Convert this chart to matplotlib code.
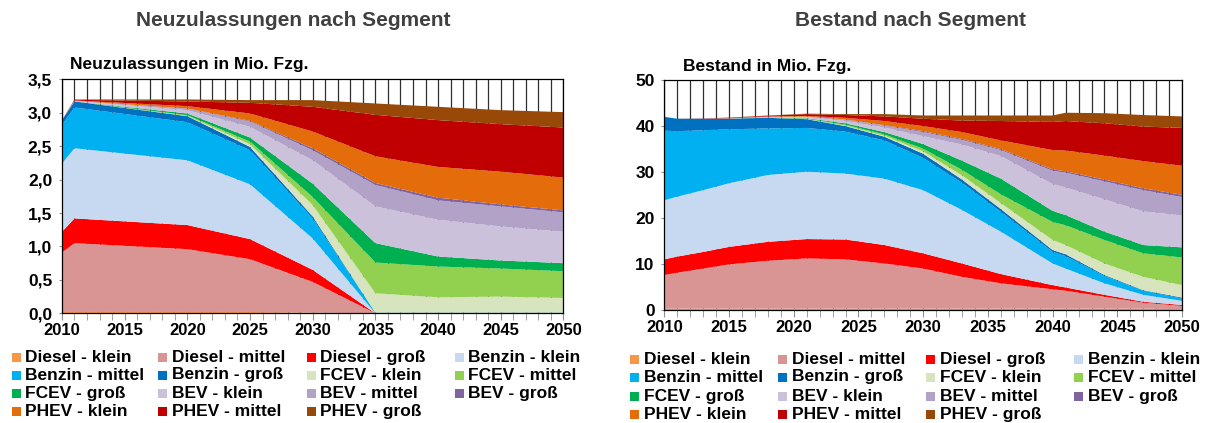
import numpy as np
import matplotlib.pyplot as plt
from matplotlib.ticker import FuncFormatter, MultipleLocator
from matplotlib.patches import Rectangle

plt.rcParams['font.family'] = ['Liberation Sans', 'DejaVu Sans']
plt.rcParams['font.weight'] = 'bold'

segments = ['Diesel - klein', 'Diesel - mittel', 'Diesel - groß',
            'Benzin - klein', 'Benzin - mittel', 'Benzin - groß',
            'FCEV - klein', 'FCEV - mittel', 'FCEV - groß',
            'BEV - klein', 'BEV - mittel', 'BEV - groß',
            'PHEV - klein', 'PHEV - mittel', 'PHEV - groß']
colors = ['#F79646', '#D99594', '#FF0000',
          '#C6D9F1', '#00B0F0', '#0070C0',
          '#D7E4BD', '#92D050', '#00B050',
          '#CCC1DA', '#B3A2C7', '#8064A2',
          '#E46C0A', '#C00000', '#984807']

# Neuzulassungen (Mio. Fzg.)
years_nz = [2010, 2011, 2020, 2025, 2030, 2035, 2040, 2045, 2050]
nz_diesel_klein = [0.02, 0.02, 0.02, 0.02, 0.01, 0.0, 0.0, 0.0, 0.0]
nz_diesel_mittel = [0.89, 1.03, 0.94, 0.79, 0.46, 0.0, 0.0, 0.0, 0.0]
nz_diesel_gross = [0.31, 0.37, 0.36, 0.30, 0.18, 0.0, 0.0, 0.0, 0.0]
nz_benzin_klein = [1.02, 1.05, 0.97, 0.82, 0.47, 0.0, 0.0, 0.0, 0.0]
nz_benzin_mittel = [0.58, 0.61, 0.57, 0.51, 0.30, 0.01, 0.01, 0.01, 0.01]
nz_benzin_gross = [0.07, 0.09, 0.09, 0.05, 0.03, 0.0, 0.0, 0.0, 0.0]
nz_fcev_klein = [0.0, 0.0, 0.005, 0.04, 0.17, 0.29, 0.23, 0.24, 0.22]
nz_fcev_mittel = [0.0, 0.0, 0.01, 0.04, 0.12, 0.46, 0.46, 0.42, 0.40]
nz_fcev_gross = [0.0, 0.0, 0.025, 0.06, 0.20, 0.29, 0.15, 0.12, 0.12]
nz_bev_klein = [0.0, 0.005, 0.05, 0.16, 0.35, 0.55, 0.55, 0.51, 0.47]
nz_bev_mittel = [0.0, 0.005, 0.02, 0.08, 0.15, 0.32, 0.29, 0.30, 0.29]
nz_bev_gross = [0.0, 0.0, 0.005, 0.01, 0.03, 0.03, 0.04, 0.03, 0.03]
nz_phev_klein = [0.0, 0.005, 0.035, 0.11, 0.25, 0.40, 0.46, 0.49, 0.49]
nz_phev_mittel = [0.0, 0.01, 0.07, 0.16, 0.37, 0.62, 0.70, 0.71, 0.75]
nz_phev_gross = [0.0, 0.005, 0.03, 0.04, 0.10, 0.17, 0.20, 0.21, 0.23]

# Bestand (Mio. Fzg.)
years_bs = [2010, 2011, 2013, 2015, 2018, 2021, 2024, 2027, 2030, 2033,
            2036, 2040, 2041, 2044, 2047, 2050]
bs_diesel_klein = [0.3, 0.3, 0.3, 0.3, 0.3, 0.3, 0.3, 0.3, 0.3, 0.3, 0.3, 0.3, 0.3, 0.3, 0.3, 0.2]
bs_diesel_mittel = [7.3, 7.8, 8.7, 9.6, 10.4, 10.9, 10.7, 9.8, 8.7, 6.9, 5.5, 4.2, 3.9, 2.6, 1.3, 0.7]
bs_diesel_gross = [3.4, 3.5, 3.6, 3.8, 4.1, 4.2, 4.3, 4.0, 3.3, 2.9, 2.0, 0.9, 0.7, 0.4, 0.2, 0.2]
bs_benzin_klein = [12.8, 13.0, 13.4, 13.8, 14.5, 14.6, 14.3, 14.4, 13.7, 11.6, 9.2, 4.7, 4.1, 2.5, 1.5, 0.9]
bs_benzin_mittel = [15.1, 14.2, 13.0, 11.7, 10.1, 9.5, 9.1, 8.3, 7.0, 5.9, 4.3, 2.5, 2.7, 1.6, 0.9, 0.5]
bs_benzin_gross = [3.0, 2.7, 2.5, 2.3, 2.3, 1.9, 1.2, 0.8, 0.9, 0.7, 0.6, 0.4, 0.4, 0.2, 0.1, 0.2]
bs_fcev_klein = [0.0, 0.0, 0.0, 0.0, 0.02, 0.05, 0.1, 0.2, 0.5, 0.9, 1.3, 2.2, 2.0, 2.5, 2.9, 2.7]
bs_fcev_mittel = [0.0, 0.0, 0.0, 0.0, 0.02, 0.05, 0.2, 0.3, 0.6, 1.2, 1.9, 3.9, 4.3, 5.1, 5.1, 6.0]
bs_fcev_gross = [0.0, 0.0, 0.0, 0.0, 0.06, 0.1, 0.3, 0.5, 1.0, 2.0, 3.4, 2.4, 2.2, 1.8, 1.8, 2.2]
bs_bev_klein = [0.0, 0.0, 0.02, 0.05, 0.1, 0.3, 0.5, 1.0, 1.7, 3.5, 4.9, 5.8, 6.0, 7.0, 7.3, 6.9]
bs_bev_mittel = [0.0, 0.0, 0.0, 0.0, 0.02, 0.05, 0.3, 0.4, 0.9, 1.0, 1.3, 2.9, 3.2, 3.9, 4.6, 4.0]
bs_bev_gross = [0.0, 0.0, 0.0, 0.0, 0.0, 0.0, 0.05, 0.1, 0.2, 0.2, 0.2, 0.3, 0.3, 0.4, 0.4, 0.5]
bs_phev_klein = [0.0, 0.0, 0.01, 0.05, 0.08, 0.15, 0.35, 0.9, 1.1, 1.5, 1.9, 4.2, 4.5, 5.2, 5.9, 6.3]
bs_phev_mittel = [0.0, 0.0, 0.03, 0.1, 0.15, 0.4, 0.6, 1.0, 1.6, 2.5, 4.2, 6.1, 6.4, 7.0, 7.5, 8.2]
bs_phev_gross = [0.0, 0.0, 0.02, 0.05, 0.05, 0.1, 0.2, 0.5, 0.7, 1.1, 1.2, 1.4, 1.8, 2.2, 2.5, 2.5]

nz_series = [nz_diesel_klein, nz_diesel_mittel, nz_diesel_gross,
             nz_benzin_klein, nz_benzin_mittel, nz_benzin_gross,
             nz_fcev_klein, nz_fcev_mittel, nz_fcev_gross,
             nz_bev_klein, nz_bev_mittel, nz_bev_gross,
             nz_phev_klein, nz_phev_mittel, nz_phev_gross]
bs_series = [bs_diesel_klein, bs_diesel_mittel, bs_diesel_gross,
             bs_benzin_klein, bs_benzin_mittel, bs_benzin_gross,
             bs_fcev_klein, bs_fcev_mittel, bs_fcev_gross,
             bs_bev_klein, bs_bev_mittel, bs_bev_gross,
             bs_phev_klein, bs_phev_mittel, bs_phev_gross]

W, H = 1210, 423


def style_axis(ax, ymax, ystep, fmt):
    ax.set_xlim(2010, 2050)
    ax.set_ylim(0, ymax)
    ax.xaxis.set_major_locator(MultipleLocator(5))
    ax.xaxis.set_minor_locator(MultipleLocator(1))
    ax.yaxis.set_major_locator(MultipleLocator(ystep))
    ax.yaxis.set_major_formatter(FuncFormatter(fmt))
    ax.grid(True, axis='x', which='both', color='#303030', lw=0.9, zorder=0)
    ax.set_axisbelow(True)
    ax.tick_params(axis='x', which='both', direction='out', length=5,
                   color='#909090', labelsize=12, pad=2)
    ax.tick_params(axis='y', direction='out', length=2, color='#909090',
                   labelsize=12.5, pad=5)
    for lab in ax.get_xticklabels() + ax.get_yticklabels():
        lab.set_fontweight('bold')
    for sp in ax.spines.values():
        sp.set_color('black')
        sp.set_linewidth(0.9)


def draw_legend(fig, col_x, row_y):
    # 4 columns, filled row by row like the original
    for i, (name, col) in enumerate(zip(segments, colors)):
        x = col_x[i % 4]
        y = row_y[i // 4]
        fig.patches.append(Rectangle(((x - 4) / W, 1 - (y + 4.5) / H), 9 / W, 9 / H,
                                     transform=fig.transFigure, facecolor=col,
                                     edgecolor='none'))
        fig.text((x + 9.5) / W, 1 - y / H, name, ha='left', va='center',
                 fontsize=12.5, fontweight='bold')


fig = plt.figure(figsize=(12.1, 4.23), dpi=100)

ax1 = fig.add_axes([0.0512, 0.2593, 0.4145, 0.553])
ax1.stackplot(years_nz, np.array(nz_series), colors=colors, lw=0, zorder=2)
style_axis(ax1, 3.5, 0.5, lambda v, p: f'{v:.1f}'.replace('.', ','))

ax2 = fig.add_axes([0.549, 0.267, 0.428, 0.545])
ax2.stackplot(years_bs, np.array(bs_series), colors=colors, lw=0, zorder=2)
style_axis(ax2, 50, 10, lambda v, p: f'{v:.0f}')

fig.text(293 / W, 1 - 21 / H, 'Neuzulassungen nach Segment', ha='center',
         va='center', fontsize=15, fontweight='bold', color='#404040')
fig.text(910 / W, 1 - 21 / H, 'Bestand nach Segment', ha='center',
         va='center', fontsize=15, fontweight='bold', color='#404040')
fig.text(70 / W, 1 - 64 / H, 'Neuzulassungen in Mio. Fzg.', ha='left',
         va='center', fontsize=12.5, fontweight='bold')
fig.text(683 / W, 1 - 67 / H, 'Bestand in Mio. Fzg.', ha='left',
         va='center', fontsize=12.5, fontweight='bold')

draw_legend(fig, [16, 162, 311, 459], [357, 375, 393, 411])
draw_legend(fig, [634, 782, 930, 1078], [359, 377, 396, 414])

fig.savefig('out.png', dpi=100)
